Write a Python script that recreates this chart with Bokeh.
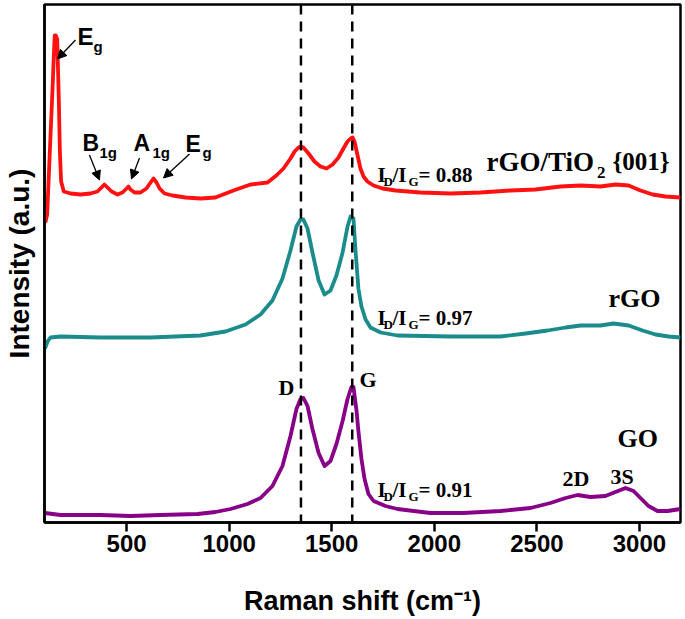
from bokeh.plotting import figure
from bokeh.models import ColumnDataSource, FixedTicker, Span, Label, Arrow, NormalHead, Range1d
from bokeh.embed import file_html
from bokeh.resources import INLINE

# ---------------- data (Raman shift in cm^-1, stacked intensity in a.u.) ----------------
red_x = [104, 113, 120, 127, 134, 141, 146, 150, 155, 162, 170, 175, 181, 194, 227, 275, 324, 358,
         378, 392, 407, 427, 456, 480, 500, 509, 519, 539, 568, 597, 617, 631, 646, 661, 685, 724,
         787, 860, 933, 1021, 1104, 1187, 1230, 1265, 1299, 1319, 1338, 1350, 1362, 1387, 1416,
         1445, 1475, 1504, 1533, 1557, 1577, 1592, 1602, 1611, 1626, 1640, 1655, 1674, 1704, 1748,
         1811, 1933, 2079, 2225, 2371, 2493, 2615, 2713, 2810, 2883, 2947, 3005, 3064, 3127, 3200]
red_y = [300, 308, 342, 376, 409, 443, 470, 487, 487, 483, 421, 371, 341, 331, 329, 328, 329, 331,
         335, 338, 335, 331, 328, 330, 334, 336, 333, 330, 330, 334, 340, 344, 340, 334, 329, 327,
         325, 324, 325, 332, 338, 340, 347, 354, 364, 371, 375, 376, 375, 369, 361,
         356, 354, 358, 365, 374, 381, 384, 385, 381, 367, 354, 346, 341, 337, 334,
         332, 330, 329, 330, 332, 333, 336, 337, 336, 338, 337, 332, 328, 326, 325]

teal_x = [102, 115, 129, 178, 373, 617, 860, 982, 1080, 1153, 1211, 1260, 1299, 1328, 1348, 1362,
          1382, 1406, 1436, 1465, 1494, 1523, 1553, 1577, 1592, 1606, 1616, 1630, 1645, 1665, 1689,
          1738, 1821, 2079, 2323, 2445, 2552, 2640, 2713, 2810, 2873, 2947, 3015, 3078, 3142, 3200]
teal_y = [174, 181, 185, 186, 185, 185, 187, 191, 198, 208, 222, 244, 272, 296, 303, 303,
          294, 270, 242, 228, 232, 247, 270, 296, 306, 304, 272, 234, 216, 203, 195,
          190, 187, 186, 186, 189, 192, 195, 197, 197, 199, 197, 192, 188, 186, 185]

purple_x = [102, 178, 373, 519, 665, 846, 933, 1007, 1089, 1153, 1211, 1260, 1299, 1328, 1348, 1362,
            1382, 1406, 1436, 1465, 1494, 1523, 1553, 1577, 1596, 1606, 1621, 1630, 1645, 1660, 1679,
            1704, 1762, 1821, 1981, 2142, 2323, 2469, 2566, 2640, 2698, 2761, 2834, 2883, 2932, 2971,
            3005, 3044, 3088, 3137, 3200]
purple_y = [9.5, 7.5, 7.5, 6.5, 7.5, 8.5, 10.5, 13.5, 18.5, 24.5, 36.5, 56.5, 86.5, 113.5, 123.5, 124.5,
            116.5, 93.5, 69.5, 56.5, 61.5, 78.5, 101.5, 123.5, 135.5, 135.5, 111.5, 91.5, 63.5, 43.5, 28.5,
            21.5, 16.5, 13.5, 9.5, 9.5, 11.5, 14.5, 19.5, 24.5, 27.5, 25.5, 26.5, 30.5, 34.5, 31.5,
            24.5, 16.5, 11.5, 11.5, 13.5]

band_positions = [1350, 1600]          # D and G bands (dashed guides)
x_ticks = [500, 1000, 1500, 2000, 2500, 3000]

RED, TEAL, PURPLE = "#ff1111", "#1b8b8b", "#870087"

p = figure(width=685, height=619, output_backend="svg", toolbar_location=None,
           x_range=Range1d(100, 3200), y_range=Range1d(0, 518),
           min_border_left=44, min_border_right=5, min_border_top=4, min_border_bottom=97)
p.background_fill_color = "white"
p.border_fill_color = "white"
p.grid.visible = False
p.outline_line_color = "black"
p.outline_line_width = 2.5

# axes
p.xaxis.ticker = FixedTicker(ticks=x_ticks)
p.xaxis.minor_tick_line_color = None
p.xaxis.major_tick_in = 0
p.xaxis.major_tick_out = 9
p.xaxis.major_tick_line_width = 2.5
p.xaxis.axis_line_width = 2.5
p.xaxis.major_label_text_font = "Liberation Sans"
p.xaxis.major_label_text_font_style = "bold"
p.xaxis.major_label_text_font_size = "24px"
p.xaxis.major_label_text_color = "black"
p.xaxis.major_label_standoff = 3
p.xaxis.axis_label = "Raman shift (cm\u207b\u00b9)"
p.xaxis.axis_label_text_font = "Liberation Sans"
p.xaxis.axis_label_text_font_style = "bold"
p.xaxis.axis_label_text_font_size = "27px"
p.xaxis.axis_label_text_color = "black"
p.xaxis.axis_label_standoff = 31

p.yaxis.ticker = FixedTicker(ticks=[])
p.yaxis.minor_tick_line_color = None
p.yaxis.major_tick_line_color = None
p.yaxis.major_label_standoff = 0
p.yaxis.axis_line_width = 2.5
p.yaxis.axis_label = "Intensity (a.u.)"
p.yaxis.axis_label_text_font = "Liberation Sans"
p.yaxis.axis_label_text_font_style = "bold"
p.yaxis.axis_label_text_font_size = "28px"
p.yaxis.axis_label_text_color = "black"
p.yaxis.axis_label_standoff = 10

for loc in band_positions:
    p.add_layout(Span(location=loc, dimension="height", line_color="black",
                      line_width=2.5, line_dash="10 7"))

for xs, ys, c in [(purple_x, purple_y, PURPLE), (teal_x, teal_y, TEAL), (red_x, red_y, RED)]:
    p.line(x="x", y="y", source=ColumnDataSource(dict(x=xs, y=ys)), line_color=c,
           line_width=3.8, line_join="round")

SANS, SERIF = "Liberation Sans", "Liberation Serif"

# text pieces: (text, x, y, font, size)
pieces = [
    ("E", 261, 486.5, SANS, "24px"), ("g", 339, 476.5, SANS, "15px"),
    ("B", 285, 379.5, SANS, "23px"), ("1g", 368, 370.5, SANS, "15px"),
    ("A", 534, 379.5, SANS, "23px"), ("1g", 626, 370.5, SANS, "15px"),
    ("E", 787, 378.5, SANS, "23px"), ("g", 870, 370.5, SANS, "15px"),
    ("rGO/TiO", 2254, 361, SERIF, "27px"), ("2", 2793, 350.5, SERIF, "17px"),
    ("{001}", 2868, 361, SERIF, "25px"),
    ("rGO", 2849, 224.5, SERIF, "26px"),
    ("GO", 2893, 84, SERIF, "26px"),
    ("D", 1241, 135.5, SERIF, "22px"), ("G", 1635, 143.5, SERIF, "22px"),
    ("2D", 2625, 44.5, SERIF, "22px"), ("3S", 2859, 46.5, SERIF, "22px"),
]
for base_y, val in [(347.5, "0.88"), (204.5, "0.97"), (32.5, "0.91")]:
    pieces += [("I", 1723, base_y, SERIF, "21px"), ("D", 1752, base_y - 6, SERIF, "13px"),
               ("/I", 1796, base_y, SERIF, "21px"), ("G", 1874, base_y - 6, SERIF, "13px"),
               ("= " + val, 1923, base_y, SERIF, "21px")]

for t, x, y, f, s in pieces:
    p.add_layout(Label(x=x, y=y, text=t, text_font=f, text_font_style="bold",
                       text_font_size=s, text_color="black",
                       text_align="left", text_baseline="alphabetic"))

arrows = [(251, 482.5, 163, 463.5), (319, 367.5, 368, 342.5),
          (563, 364.5, 524, 343.5), (807, 368.5, 680, 344.5)]
for x0, y0, x1, y1 in arrows:
    p.add_layout(Arrow(end=NormalHead(size=9, fill_color="black", line_color="black"),
                       x_start=x0, y_start=y0, x_end=x1, y_end=y1,
                       line_color="black", line_width=1.3))

open("out.html", "w").write(file_html(p, INLINE))
